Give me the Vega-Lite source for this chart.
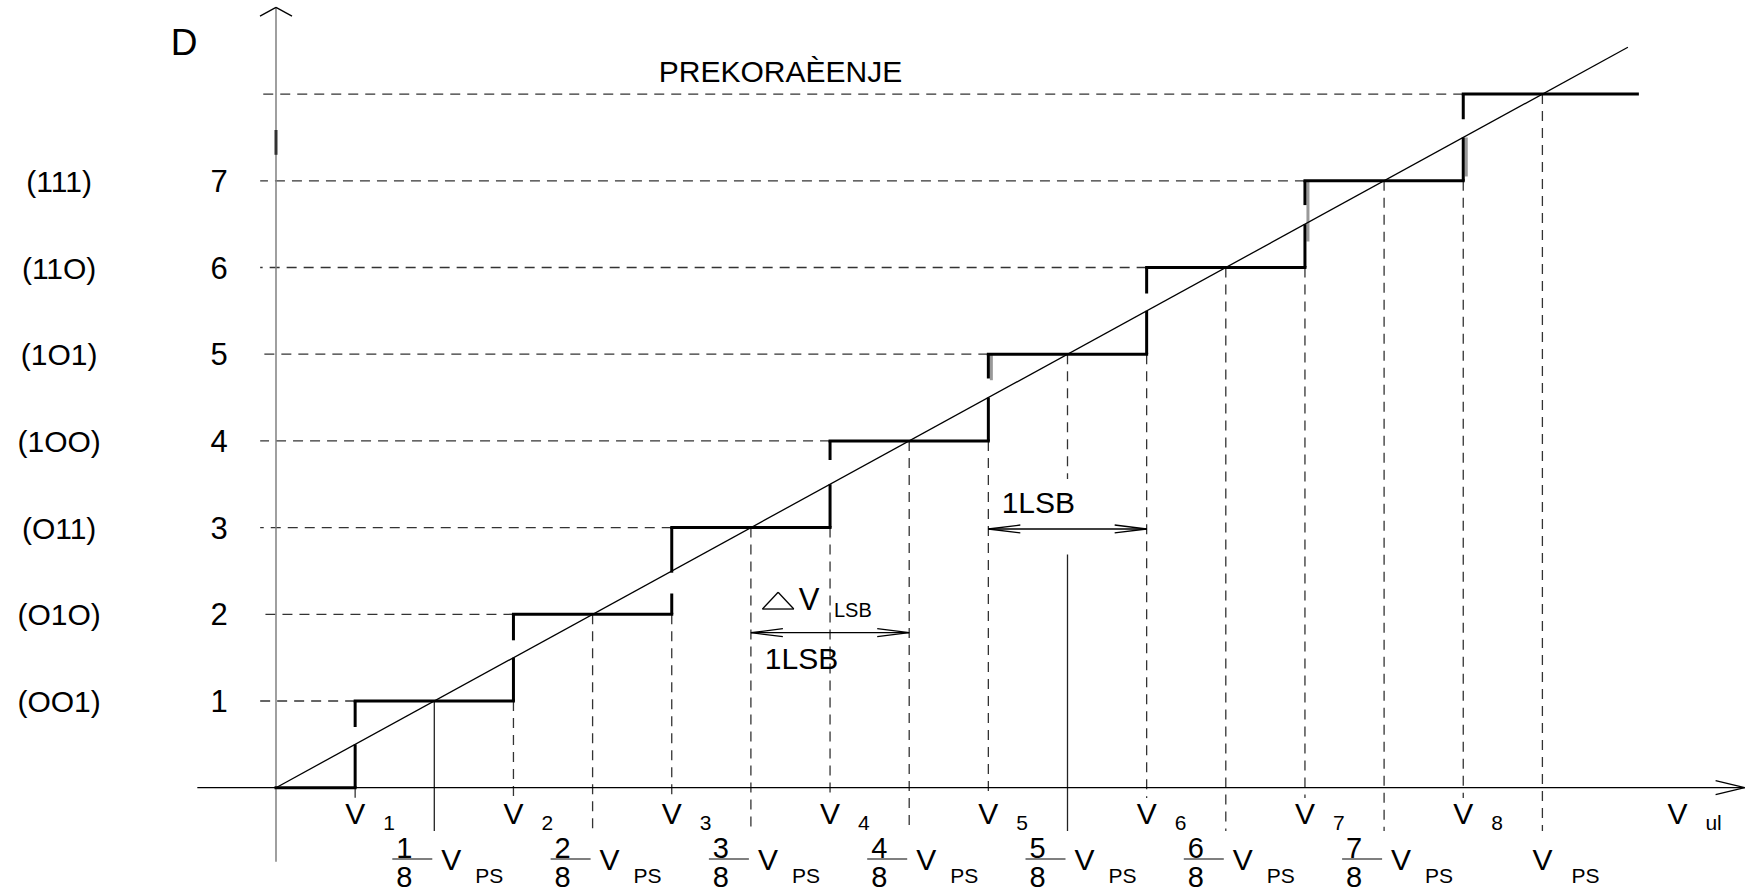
{
 "$schema": "https://vega.github.io/schema/vega-lite/v6.json",
 "width": 1748, "height": 893, "autosize": "none", "padding": 0,
 "background": "white",
 "config": {"view": {"stroke": null}, "text": {"font": "Liberation Sans", "color": "black"}},
 "datasets": {
  "stairs": [{"xa":0,"xb":0.5,"y":0},{"xa":0.5,"xb":1.5,"y":1},{"xa":1.5,"xb":2.5,"y":2},{"xa":2.5,"xb":3.5,"y":3},{"xa":3.5,"xb":4.5,"y":4},{"xa":4.5,"xb":5.5,"y":5},{"xa":5.5,"xb":6.5,"y":6},{"xa":6.5,"xb":7.5,"y":7},{"xa":7.5,"xb":8.6,"y":8}],
  "risers": [{"x":0.5,"ya":0,"yb":0.5},{"x":0.5,"ya":0.7,"yb":1},{"x":1.5,"ya":1,"yb":1.5},{"x":1.5,"ya":1.7,"yb":2},{"x":2.5,"ya":2,"yb":2.24},{"x":2.5,"ya":2.48,"yb":3},{"x":3.5,"ya":3,"yb":3.5},{"x":3.5,"ya":3.78,"yb":4},{"x":4.5,"ya":4,"yb":4.5},{"x":4.5,"ya":4.72,"yb":5},{"x":5.5,"ya":5,"yb":5.5},{"x":5.5,"ya":5.7,"yb":6},{"x":6.5,"ya":6,"yb":6.5},{"x":6.5,"ya":6.72,"yb":7},{"x":7.5,"ya":7,"yb":7.5},{"x":7.5,"ya":7.71,"yb":8}],
  "ghost": [{"x":4.5,"ya":4.7,"yb":5},{"x":6.5,"ya":6.3,"yb":7},{"x":7.5,"ya":7.05,"yb":7.5}],
  "hdash": [{"y":1,"xb":0.5},{"y":2,"xb":1.5},{"y":3,"xb":2.5},{"y":4,"xb":3.5},{"y":5,"xb":4.5},{"y":6,"xb":5.5},{"y":7,"xb":6.5},{"y":8,"xb":7.5}],
  "vdash": [{"x":0.5,"ya":0,"yb":-0.12},{"x":1.5,"ya":1,"yb":-0.12},{"x":2.5,"ya":2,"yb":-0.12},{"x":3.5,"ya":3,"yb":-0.12},{"x":4.5,"ya":4,"yb":-0.12},{"x":5.5,"ya":5,"yb":-0.12},{"x":6.5,"ya":6,"yb":-0.12},{"x":7.5,"ya":7,"yb":-0.12},{"x":2,"ya":2,"yb":-0.5},{"x":3,"ya":3,"yb":-0.5},{"x":4,"ya":4,"yb":-0.5},{"x":5,"ya":5,"yb":3.56},{"x":6,"ya":6,"yb":-0.5},{"x":7,"ya":7,"yb":-0.5},{"x":8,"ya":8,"yb":-0.5}],
  "vsolid": [{"x":1,"ya":1,"yb":-0.5},{"x":5,"ya":2.69,"yb":-0.5}],
  "segs": [{"xa":0,"ya":0,"xb":8.54,"yb":8.54},{"xa":-0.497,"ya":0,"xb":9.278,"yb":0},{"xa":9.094,"ya":0.081,"xb":9.278,"yb":0},{"xa":9.094,"ya":-0.081,"xb":9.278,"yb":0},{"xa":-0.101,"ya":8.9,"xb":0,"yb":9.0},{"xa":0.101,"ya":8.9,"xb":0,"yb":9.0},
           {"xa":3,"ya":1.788,"xb":4,"yb":1.788},{"xa":3,"ya":1.788,"xb":3.202,"yb":1.834},{"xa":3,"ya":1.788,"xb":3.202,"yb":1.742},{"xa":4,"ya":1.788,"xb":3.798,"yb":1.834},{"xa":4,"ya":1.788,"xb":3.798,"yb":1.742},
           {"xa":4.5,"ya":2.984,"xb":5.5,"yb":2.984},{"xa":4.5,"ya":2.984,"xb":4.702,"yb":3.03},{"xa":4.5,"ya":2.984,"xb":4.702,"yb":2.938},{"xa":5.5,"ya":2.984,"xb":5.298,"yb":3.03},{"xa":5.5,"ya":2.984,"xb":5.298,"yb":2.938},
           {"xa":3.073,"ya":2.061,"xb":3.271,"yb":2.061},{"xa":3.271,"ya":2.061,"xb":3.172,"yb":2.254},{"xa":3.172,"ya":2.254,"xb":3.073,"yb":2.061}],
  "yaxis": [{"xa":0,"ya":-0.854,"xb":0,"yb":9.0}],
  "ymark": [{"x":0,"ya":7.30,"yb":7.586}],
  "levels": [{"k":1,"code":"(OO1)"},{"k":2,"code":"(O1O)"},{"k":3,"code":"(O11)"},{"k":4,"code":"(1OO)"},{"k":5,"code":"(1O1)"},{"k":6,"code":"(11O)"},{"k":7,"code":"(111)"}],
  "vlabels": [{"x":0.5,"sub":"1"},{"x":1.5,"sub":"2"},{"x":2.5,"sub":"3"},{"x":3.5,"sub":"4"},{"x":4.5,"sub":"5"},{"x":5.5,"sub":"6"},{"x":6.5,"sub":"7"},{"x":7.5,"sub":"8"},{"x":8.853,"sub":"ul"}],
  "fracs": [{"k":1,"num":"1"},{"k":2,"num":"2"},{"k":3,"num":"3"},{"k":4,"num":"4"},{"k":5,"num":"5"},{"k":6,"num":"6"},{"k":7,"num":"7"}],
  "notes": [{"x":3.32,"y":1.373,"t":"1LSB"},{"x":4.816,"y":3.172,"t":"1LSB"}],
  "big": [{"x":-0.581,"y":8.451,"t":"D"}],
  "over": [{"x":3.187,"y":8.143,"t":"PREKORAÈENJE"}],
  "dv": [{"x":3.367,"y":2.0496}],
  "vps": [{"x":8}]
 },
 "layer": [
  {"data":{"name":"hdash"},"mark":{"type":"rule","strokeDash":[10,7],"strokeWidth":1.3,"color":"#333"},
   "encoding":{"x":{"field":"xb","type":"quantitative","scale":{"domain":[-1.7435,9.2988],"nice":false,"zero":false},"axis":null},"x2":{"datum":-0.1},
               "y":{"field":"y","type":"quantitative","scale":{"domain":[-1.2145,9.0854],"nice":false,"zero":false},"axis":null}}},
  {"data":{"name":"vdash"},"mark":{"type":"rule","strokeDash":[10,7],"strokeWidth":1.3,"color":"#333"},
   "encoding":{"x":{"field":"x","type":"quantitative"},"y":{"field":"ya","type":"quantitative"},"y2":{"field":"yb"}}},
  {"data":{"name":"vsolid"},"mark":{"type":"rule","strokeWidth":1.3,"color":"#222"},
   "encoding":{"x":{"field":"x","type":"quantitative"},"y":{"field":"ya","type":"quantitative"},"y2":{"field":"yb"}}},
  {"data":{"name":"yaxis"},"mark":{"type":"rule","strokeWidth":1.5,"color":"#808080"},
   "encoding":{"x":{"field":"xa","type":"quantitative"},"y":{"field":"ya","type":"quantitative"},"x2":{"field":"xb"},"y2":{"field":"yb"}}},
  {"data":{"name":"ymark"},"mark":{"type":"rule","strokeWidth":3,"color":"#333"},
   "encoding":{"x":{"field":"x","type":"quantitative"},"y":{"field":"ya","type":"quantitative"},"y2":{"field":"yb"}}},
  {"data":{"name":"ghost"},"mark":{"type":"rule","strokeWidth":3,"color":"#999","xOffset":3},
   "encoding":{"x":{"field":"x","type":"quantitative"},"y":{"field":"ya","type":"quantitative"},"y2":{"field":"yb"}}},
  {"data":{"name":"segs"},"mark":{"type":"rule","strokeWidth":1.3,"color":"black"},
   "encoding":{"x":{"field":"xa","type":"quantitative"},"y":{"field":"ya","type":"quantitative"},"x2":{"field":"xb"},"y2":{"field":"yb"}}},
  {"data":{"name":"stairs"},"mark":{"type":"rule","strokeWidth":3,"color":"black","strokeCap":"square"},
   "encoding":{"x":{"field":"xa","type":"quantitative"},"x2":{"field":"xb"},"y":{"field":"y","type":"quantitative"}}},
  {"data":{"name":"risers"},"mark":{"type":"rule","strokeWidth":3,"color":"black"},
   "encoding":{"x":{"field":"x","type":"quantitative"},"y":{"field":"ya","type":"quantitative"},"y2":{"field":"yb"}}},
  {"data":{"name":"levels"},"mark":{"type":"text","fontSize":30,"align":"center","baseline":"middle","dy":2},
   "encoding":{"x":{"datum":-1.37,"type":"quantitative"},"y":{"field":"k","type":"quantitative"},"text":{"field":"code","type":"nominal"}}},
  {"data":{"name":"levels"},"mark":{"type":"text","fontSize":31,"align":"center","baseline":"middle","dy":2},
   "encoding":{"x":{"datum":-0.36,"type":"quantitative"},"y":{"field":"k","type":"quantitative"},"text":{"field":"k","type":"nominal"}}},
  {"data":{"name":"big"},"mark":{"type":"text","fontSize":37,"align":"center","baseline":"alphabetic"},
   "encoding":{"x":{"field":"x","type":"quantitative"},"y":{"field":"y","type":"quantitative"},"text":{"field":"t","type":"nominal"}}},
  {"data":{"name":"over"},"mark":{"type":"text","fontSize":30,"align":"center","baseline":"alphabetic"},
   "encoding":{"x":{"field":"x","type":"quantitative"},"y":{"field":"y","type":"quantitative"},"text":{"field":"t","type":"nominal"}}},
  {"data":{"name":"vlabels"},"mark":{"type":"text","fontSize":30,"align":"center","baseline":"alphabetic"},
   "encoding":{"x":{"field":"x","type":"quantitative"},"y":{"datum":-0.4187,"type":"quantitative"},"text":{"value":"V"}}},
  {"data":{"name":"vlabels"},"mark":{"type":"text","fontSize":21,"align":"left","baseline":"alphabetic","dx":28},
   "encoding":{"x":{"field":"x","type":"quantitative"},"y":{"datum":-0.49,"type":"quantitative"},"text":{"field":"sub","type":"nominal"}}},
  {"data":{"name":"fracs"},"mark":{"type":"text","fontSize":29,"align":"center","baseline":"alphabetic","dx":-30},
   "encoding":{"x":{"field":"k","type":"quantitative"},"y":{"datum":-0.8108,"type":"quantitative"},"text":{"field":"num","type":"nominal"}}},
  {"data":{"name":"fracs"},"mark":{"type":"text","fontSize":29,"align":"center","baseline":"alphabetic","dx":-30},
   "encoding":{"x":{"field":"k","type":"quantitative"},"y":{"datum":-1.1453,"type":"quantitative"},"text":{"value":"8"}}},
  {"data":{"name":"fracs"},"mark":{"type":"rule","strokeWidth":1.5,"color":"#555","xOffset":-42,"x2Offset":-2},
   "encoding":{"x":{"field":"k","type":"quantitative"},"x2":{"field":"k"},"y":{"datum":-0.822,"type":"quantitative"}}},
  {"data":{"name":"fracs"},"mark":{"type":"text","fontSize":30,"align":"center","baseline":"alphabetic","dx":17},
   "encoding":{"x":{"field":"k","type":"quantitative"},"y":{"datum":-0.9493,"type":"quantitative"},"text":{"value":"V"}}},
  {"data":{"name":"fracs"},"mark":{"type":"text","fontSize":21,"align":"center","baseline":"alphabetic","dx":55},
   "encoding":{"x":{"field":"k","type":"quantitative"},"y":{"datum":-1.099,"type":"quantitative"},"text":{"value":"PS"}}},
  {"data":{"name":"vps"},"mark":{"type":"text","fontSize":30,"align":"center","baseline":"alphabetic"},
   "encoding":{"x":{"field":"x","type":"quantitative"},"y":{"datum":-0.9493,"type":"quantitative"},"text":{"value":"V"}}},
  {"data":{"name":"vps"},"mark":{"type":"text","fontSize":21,"align":"center","baseline":"alphabetic","dx":43},
   "encoding":{"x":{"field":"x","type":"quantitative"},"y":{"datum":-1.099,"type":"quantitative"},"text":{"value":"PS"}}},
  {"data":{"name":"notes"},"mark":{"type":"text","fontSize":30,"align":"center","baseline":"alphabetic"},
   "encoding":{"x":{"field":"x","type":"quantitative"},"y":{"field":"y","type":"quantitative"},"text":{"field":"t","type":"nominal"}}},
  {"data":{"name":"dv"},"mark":{"type":"text","fontSize":31,"align":"center","baseline":"alphabetic"},
   "encoding":{"x":{"field":"x","type":"quantitative"},"y":{"field":"y","type":"quantitative"},"text":{"value":"V"}}},
  {"data":{"name":"dv"},"mark":{"type":"text","fontSize":20,"align":"left","baseline":"alphabetic","dx":25,"dy":7},
   "encoding":{"x":{"field":"x","type":"quantitative"},"y":{"field":"y","type":"quantitative"},"text":{"value":"LSB"}}}
 ]
}
